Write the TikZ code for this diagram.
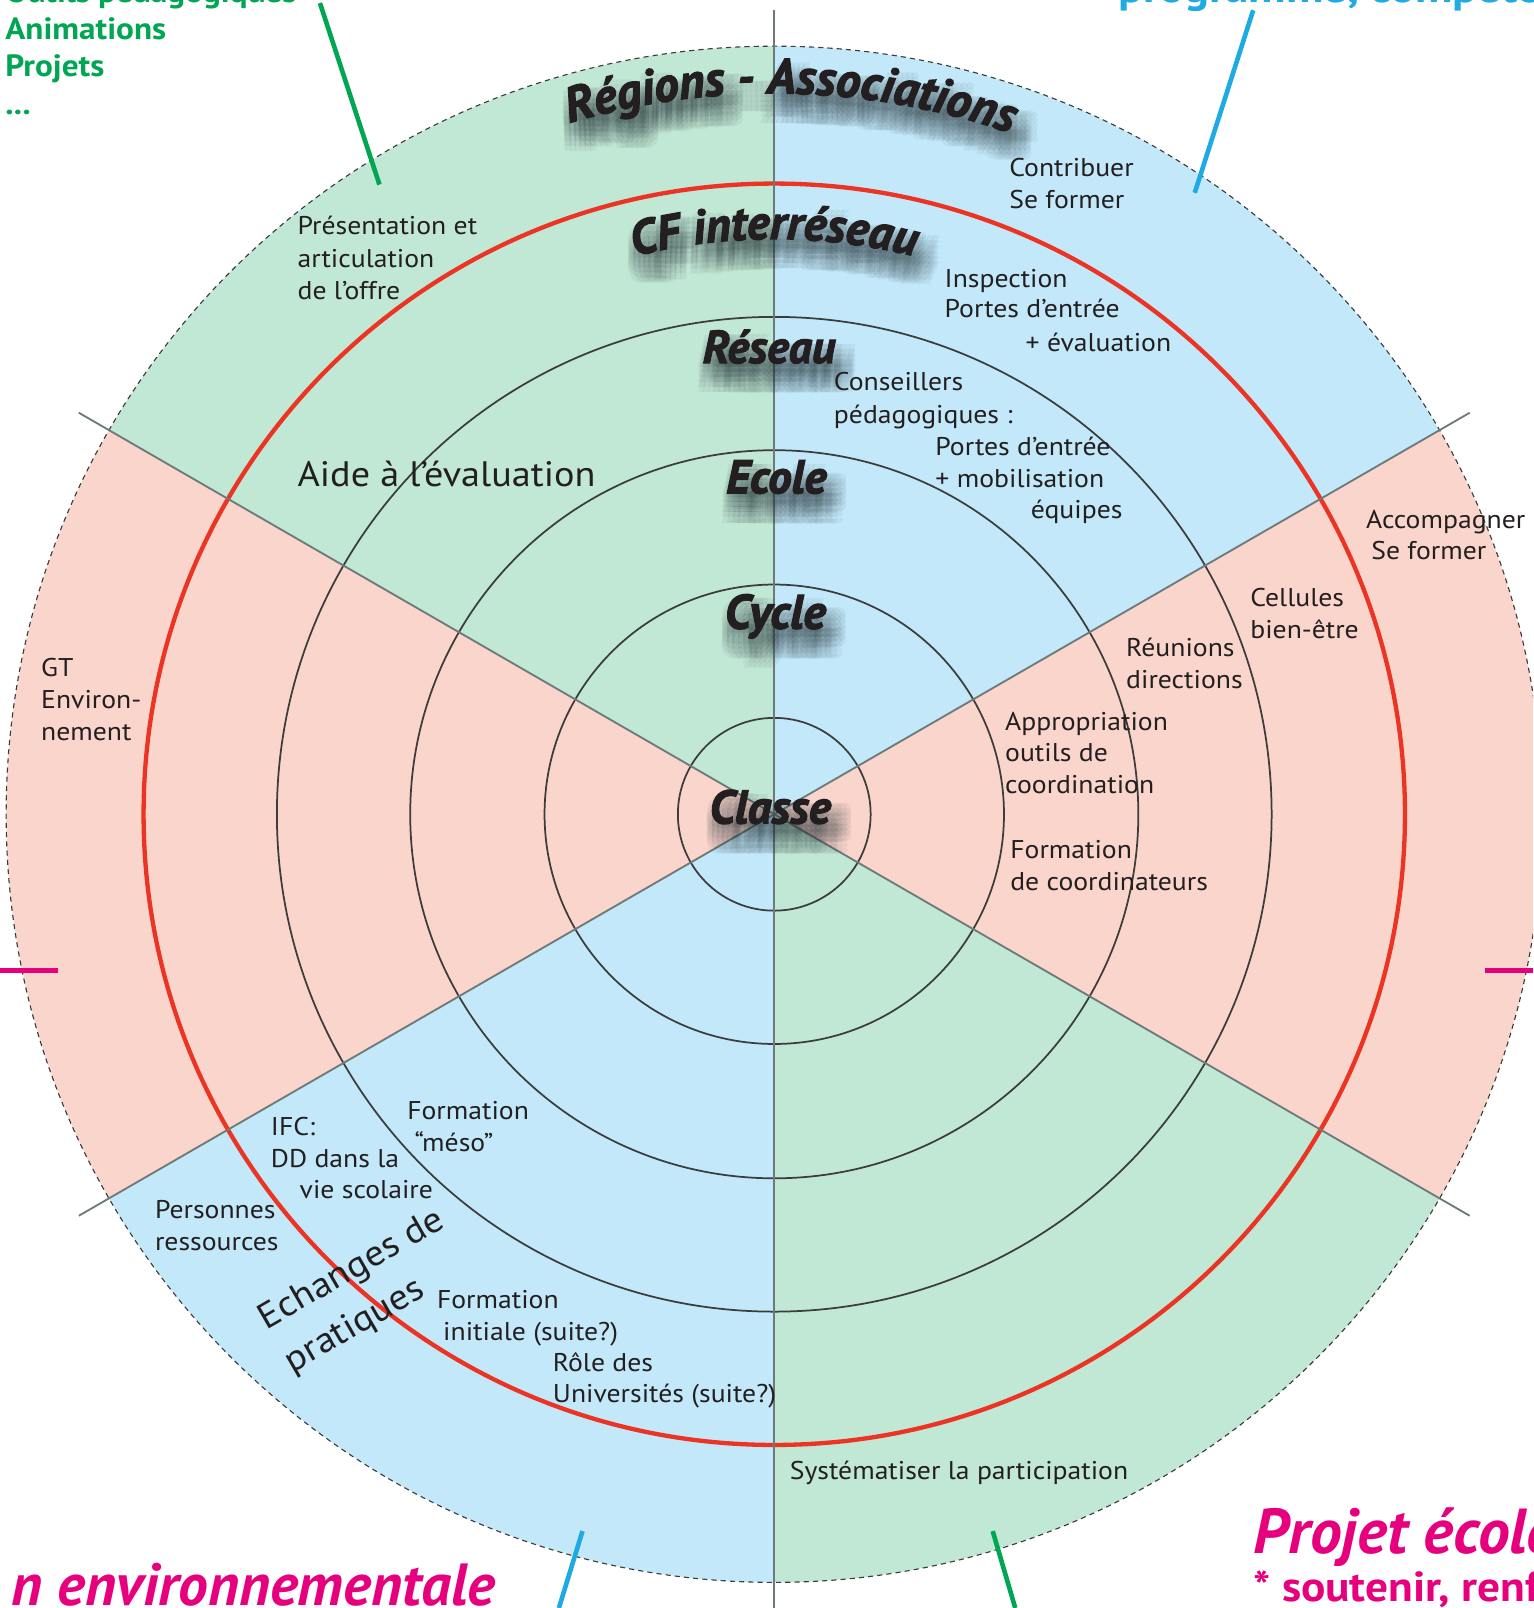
\documentclass[tikz,border=0pt]{standalone}
\usepackage{fontspec}
\setmainfont{PT Sans}[FakeStretch=1.08]
\newfontfamily\lblfont{PT Sans}[BoldItalicFeatures={FakeBold=2.5}]
\newfontfamily\lblshfont{PT Sans}
\usetikzlibrary{calc,decorations.text}
\definecolor{gfill}{RGB}{193,231,213}
\definecolor{bfill}{RGB}{194,232,249}
\definecolor{pfill}{RGB}{250,213,203}
\definecolor{redc}{RGB}{236,52,36}
\definecolor{ringc}{RGB}{60,60,60}
\definecolor{secc}{RGB}{110,122,122}
\definecolor{greenL}{RGB}{0,166,81}
\definecolor{blueL}{RGB}{30,170,226}
\definecolor{mag}{RGB}{230,0,126}
\definecolor{txt}{RGB}{35,31,32}
\definecolor{shadowc}{RGB}{40,55,60}
\newcommand\bigfont[1]{\fontsize{#1}{#1}\selectfont\lblfont\bfseries\itshape}
\newcommand\bigshfont[1]{\fontsize{#1}{#1}\selectfont\lblshfont\bfseries\itshape}
\tikzset{
  lbl/.style={anchor=base west, inner sep=0pt, text=txt, font=\fontsize{25}{31}\selectfont},
  biglbl/.style={anchor=base, inner sep=0pt, text=txt},
  ring/.style={draw=ringc, line width=1.7pt},
  secline/.style={draw=secc, line width=1.8pt},
  outline/.style={line width=4.5pt},
  outtext/.style={anchor=base west, inner sep=0pt},
}
\newcommand\shlabel[5]{% name, x, y, size, text
  \foreach \sx in {-5,0,5,10,15,20}{\foreach \sy in {4,9,14,19,24,29}{
    \node[biglbl, text=shadowc, opacity=0.055, font=\bigshfont{#4}, shift={(\sx,\sy)}] at (#2,#3) {#5};}}
  \node[biglbl, font=\bigfont{#4}] (#1) at (#2,#3) {#5};
}
% curved label around the centre (755,794); explicit numbers so that shifts apply
\newcommand\curvlabel[5]{% radius, center angle, size, text, span
  \foreach \sx in {-5,0,5,10,15,20}{\foreach \sy in {4,9,14,19,24,29}{
    \begin{scope}[opacity=0.055]
    \path[decorate, decoration={text along path, text align=center,
      text={|\color{shadowc}\bigshfont{#3}|#4}}]
      ($(755+\sx,794+\sy)+(#2-#5:#1)$) arc[start angle=#2-#5, end angle=#2+#5, radius=#1];
    \end{scope}}}
  \path[decorate, decoration={text along path, text align=center,
      text={|\color{txt}\bigfont{#3}|#4}}]
      ($(755,794)+(#2-#5:#1)$) arc[start angle=#2-#5, end angle=#2+#5, radius=#1];
}
\begin{document}
\begin{tikzpicture}[x=1pt,y=-1pt]
\useasboundingbox (0,0) rectangle (1495,1568);
\begin{scope}
\clip (0,0) rectangle (1495,1568);
\coordinate (C) at (755,794);
% sectors
\fill[gfill] (C) -- ++(210:749) arc[start angle=210,end angle=270,radius=749] -- cycle;
\fill[bfill] (C) -- ++(270:749) arc[start angle=270,end angle=330,radius=749] -- cycle;
\fill[pfill] (C) -- ++(330:749) arc[start angle=330,end angle=390,radius=749] -- cycle;
\fill[gfill] (C) -- ++(30:749) arc[start angle=30,end angle=90,radius=749] -- cycle;
\fill[bfill] (C) -- ++(90:749) arc[start angle=90,end angle=150,radius=749] -- cycle;
\fill[pfill] (C) -- ++(150:749) arc[start angle=150,end angle=210,radius=749] -- cycle;
% rings
\foreach \r in {94,224,355,485} {\draw[ring] (C) circle[radius=\r];}
\draw[redc, line width=4.2pt] (C) circle[radius=615];
\draw[ringc, line width=1.1pt, dash pattern=on 5pt off 4pt] (C) circle[radius=749];
% sector lines
\draw[secline] ($(C)+(210:783)$) -- ($(C)+(30:783)$);
\draw[secline] ($(C)+(150:783)$) -- ($(C)+(330:783)$);
\draw[secline] (755,10) -- (755,1568);
% outer connectors
\coordinate (gA) at (312,3); \coordinate (gB) at (370,180);
\coordinate (bA) at (1222,10); \coordinate (bB) at (1165,188);
\coordinate (bC) at (568,1493); \coordinate (bD) at (545,1568);
\coordinate (gC) at (968,1493); \coordinate (gD) at (990,1568);
\draw[greenL, outline] (gA) -- (gB);
\draw[blueL, outline] (bA) -- (bB);
\draw[blueL, outline] (bC) -- (bD);
\draw[greenL, outline] (gC) -- (gD);
\draw[mag, line width=5pt] (0,946) -- (57,946);
\draw[mag, line width=5pt] (1448,946) -- (1495,946);
% outside texts
\node[outtext, text=greenL, font=\fontsize{30}{30}\selectfont\bfseries] (o1) at (5,2) {Outils pédagogiques};
\node[outtext, text=greenL, font=\fontsize{30}{30}\selectfont\bfseries] (o2) at (5,39) {Animations};
\node[outtext, text=greenL, font=\fontsize{30}{30}\selectfont\bfseries] (o3) at (5,75) {Projets};
\node[outtext, text=greenL, font=\fontsize{30}{30}\selectfont\bfseries] (o4) at (5,112) {...};
\node[outtext, text=blueL, font=\fontsize{42}{42}\selectfont\bfseries] (o5) at (1090,2) {programme, compétences};
\node[anchor=base east, inner sep=0pt, text=mag, font=\bigshfont{58}] (o6) at (483,1566) {n environnementale};
\node[outtext, text=mag, font=\bigshfont{62}] (o7) at (1222,1515) {Projet école};
\node[outtext, text=mag, font=\fontsize{41}{41}\selectfont\bfseries] (o8) at (1222,1562) {* soutenir, renforcer};
% big labels
\curvlabel{703}{271.3}{48}{Régions - Associations}{40}
\curvlabel{561}{270}{47}{CF interréseau}{40}
\shlabel{reseau}{750}{354}{45}{Réseau}
\shlabel{ecole}{757}{481}{46}{Ecole}
\shlabel{cycle}{756}{613}{47}{Cycle}
\shlabel{classe}{751}{803}{46}{Classe}
% sector texts
\node[lbl] (t1) at (984,172) {Contribuer};
\node[lbl] (t2) at (984,203) {Se former};
\node[lbl] (t3) at (290,229) {Présentation et};
\node[lbl] (t4) at (290,261) {articulation};
\node[lbl] (t5) at (290,292) {de l’offre};
\node[lbl] (t6) at (921,280) {Inspection};
\node[lbl] (t7) at (921,310) {Portes d’entrée};
\node[lbl] (t8) at (1000,343) {+ évaluation};
\node[lbl] (t9) at (813,381) {Conseillers};
\node[lbl] (t10) at (813,413) {pédagogiques :};
\node[lbl] (t11) at (912,444) {Portes d’entrée};
\node[lbl] (t12) at (912,475) {+ mobilisation};
\node[lbl] (t13) at (1005,506) {équipes};
\node[lbl, font=\fontsize{34.5}{34.5}\selectfont] (t14) at (290,474) {Aide à l’évaluation};
\node[lbl] (t15) at (1332,515) {Accompagner};
\node[lbl] (t16) at (1337,546) {Se former};
\node[lbl] (t17) at (1219,591) {Cellules};
\node[lbl] (t18) at (1219,623) {bien-être};
\node[lbl] (t19) at (1098,640) {Réunions};
\node[lbl] (t20) at (1098,671) {directions};
\node[lbl] (t21) at (40,660) {GT};
\node[lbl] (t22) at (40,691) {Environ-};
\node[lbl] (t23) at (40,722) {nement};
\node[lbl] (t24) at (980,712) {Appropriation};
\node[lbl] (t25) at (980,743) {outils de};
\node[lbl] (t26) at (980,774) {coordination};
\node[lbl] (t27) at (985,837) {Formation};
\node[lbl] (t28) at (985,868) {de coordinateurs};
\node[lbl] (t29) at (264,1107) {IFC:};
\node[lbl] (t30) at (264,1138) {DD dans la};
\node[lbl] (t31) at (292,1169) {vie scolaire};
\node[lbl] (t32) at (397,1092) {Formation};
\node[lbl] (t33) at (404,1123) {“méso”};
\node[lbl] (t34) at (151,1188) {Personnes};
\node[lbl] (t35) at (151,1219) {ressources};
\node[lbl, font=\fontsize{35}{35}\selectfont, rotate=30] (t36) at (260,1297) {Echanges de};
\node[lbl, font=\fontsize{35}{35}\selectfont, rotate=30] (t37) at (285,1339) {pratiques};
\node[lbl] (t38) at (426,1276) {Formation};
\node[lbl] (t39) at (432,1307) {initiale (suite?)};
\node[lbl] (t40) at (539,1337) {Rôle des};
\node[lbl] (t41) at (539,1368) {Universités (suite?)};
\node[lbl] (t42) at (770,1443) {Systématiser la participation};
\end{scope}
\end{tikzpicture}
\end{document}
